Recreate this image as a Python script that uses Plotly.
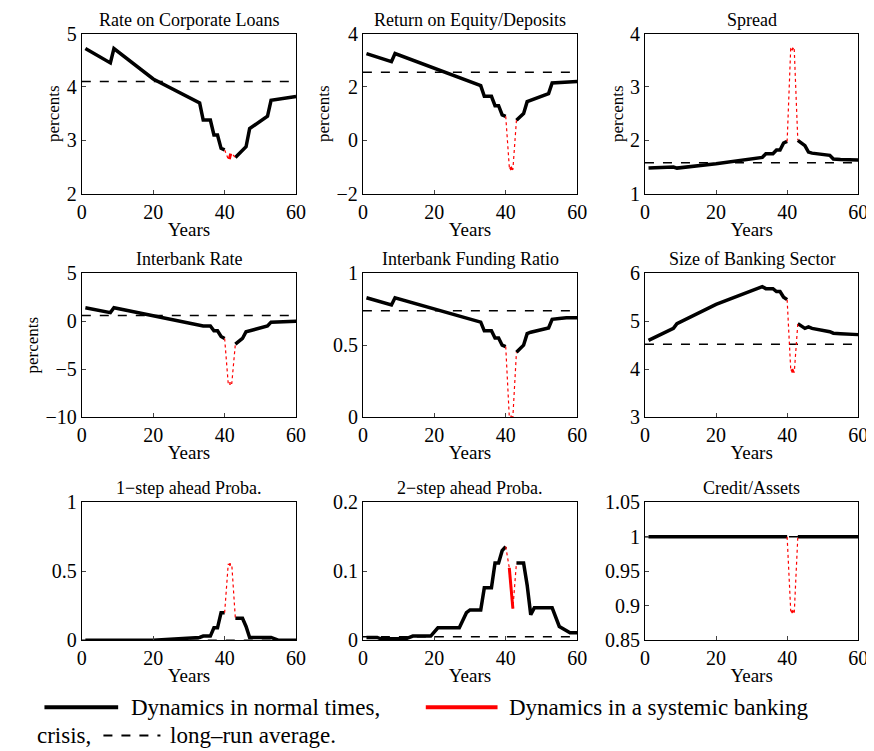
import plotly.graph_objects as go

FONT = "Liberation Serif"

titles = ["Rate on Corporate Loans", "Return on Equity/Deposits", "Spread",
          "Interbank Rate", "Interbank Funding Ratio", "Size of Banking Sector",
          "1\u2212step ahead Proba.", "2\u2212step ahead Proba.", "Credit/Assets"]

# normal-times breakpoints before the crisis (years 1..40)
pre_x = [1, 8, 9, 20, 33, 34, 36, 37, 38, 39, 40]
pre_y = [
    [4.72, 4.45, 4.72, 4.15, 3.70, 3.38, 3.38, 3.10, 3.10, 2.85, 2.82],
    [3.25, 2.95, 3.25, 2.70, 2.05, 1.65, 1.65, 1.30, 1.30, 0.95, 0.90],
    [1.48, 1.50, 1.48, 1.56, 1.68, 1.75, 1.75, 1.82, 1.82, 1.95, 1.98],
    [1.4, 0.9, 1.4, 0.6, -0.4, -0.5, -0.5, -1.0, -1.0, -1.6, -1.8],
    [0.83, 0.78, 0.83, 0.75, 0.66, 0.60, 0.60, 0.55, 0.55, 0.50, 0.49],
    [4.60, 4.85, 4.95, 5.35, 5.72, 5.68, 5.68, 5.62, 5.62, 5.50, 5.45],
    [0.0, 0.0, 0.0, 0.0, 0.02, 0.03, 0.03, 0.09, 0.09, 0.20, 0.20],
    [0.004, 0.002, 0.002, 0.006, 0.044, 0.076, 0.076, 0.112, 0.112, 0.130, 0.136],
    [1.0] * 11,
]
# the 2-step probability has more steps of its own
step2_pre_x = [1, 4, 5, 12, 14, 19, 21, 27, 29, 30, 33, 34, 36, 37, 38, 39, 40]
step2_pre_y = [0.004, 0.004, 0.002, 0.002, 0.006, 0.006, 0.018, 0.018, 0.040, 0.044,
               0.044, 0.076, 0.076, 0.112, 0.112, 0.130, 0.136]
step2_post_x = [43, 45, 46, 47, 48, 53, 55, 57, 58, 60]
step2_post_y = [0.112, 0.112, 0.080, 0.037, 0.047, 0.047, 0.020, 0.013, 0.011, 0.011]

# crisis years
crisis_x = [41, 42]
crisis_y = [[2.65, 2.75], [-1.0, -1.1], [3.72, 3.70], [-6.5, -6.5], [0.0, 0.0],
            [4.00, 3.93], [0.55, 0.55], [0.105, 0.046], [0.893, 0.890]]
# normal-times breakpoints after the crisis (years 43..60)
post_x = [43, 45, 46, 47, 52, 53, 55, 57, 60]
post_y = [
    [2.68, 2.80, 2.88, 3.22, 3.45, 3.75, 3.77, 3.79, 3.82],
    [0.75, 1.00, 1.45, 1.50, 1.75, 2.15, 2.17, 2.18, 2.20],
    [2.00, 1.90, 1.78, 1.76, 1.72, 1.65, 1.64, 1.64, 1.63],
    [-2.4, -1.8, -1.1, -1.0, -0.5, -0.1, -0.05, 0.0, 0.0],
    [0.45, 0.50, 0.58, 0.59, 0.62, 0.68, 0.685, 0.69, 0.69],
    [4.95, 4.85, 4.88, 4.85, 4.78, 4.75, 4.74, 4.73, 4.72],
    [0.16, 0.16, 0.10, 0.02, 0.02, 0.02, 0.0, 0.0, 0.0],
    [0.112, 0.112, 0.080, 0.037, 0.047, 0.047, 0.020, 0.013, 0.011],
    [1.0] * 9,
]
averages = [4.1, 2.55, 1.58, 0.6, 0.74, 4.52, 0.0, 0.005, 1.0]
y_ranges = [[2, 5], [-2, 4], [1, 4], [-10, 5], [0, 1], [3, 6], [0, 1], [0, 0.2], [0.85, 1.05]]
y_ticks = [[2, 3, 4, 5], [-2, 0, 2, 4], [1, 2, 3, 4], [-10, -5, 0, 5], [0, 0.5, 1],
           [3, 4, 5, 6], [0, 0.5, 1], [0, 0.1, 0.2], [0.85, 0.9, 0.95, 1, 1.05]]
show_percents = [True, True, True, True, False, False, False, False, False]

W, H = 874, 751
col_px = [(70, 288), (356, 574), (643, 860)]
row_px = [(15, 180), (262, 410), (498, 640)]

fig = go.Figure()
for i in range(9):
    r, c = divmod(i, 3)
    ax = "" if i == 0 else str(i + 1)
    xa, ya = "x" + ax, "y" + ax
    x0, x1 = col_px[c]
    y0, y1 = row_px[r]
    px_, py_ = (step2_pre_x, step2_pre_y) if i == 7 else (pre_x, pre_y[i])
    qx_, qy_ = (step2_post_x, step2_post_y) if i == 7 else (post_x, post_y[i])
    fig.add_trace(go.Scatter(x=[0, 60], y=[averages[i]] * 2, mode="lines",
                             line=dict(color="black", width=1.5, dash="dash"),
                             xaxis=xa, yaxis=ya, showlegend=False))
    fig.add_trace(go.Scatter(x=px_, y=py_, mode="lines",
                             line=dict(color="black", width=3.5),
                             xaxis=xa, yaxis=ya, showlegend=False))
    fig.add_trace(go.Scatter(x=qx_, y=qy_, mode="lines",
                             line=dict(color="black", width=3.5),
                             xaxis=xa, yaxis=ya, showlegend=False))
    fig.add_trace(go.Scatter(x=[px_[-1]] + crisis_x + [qx_[0]],
                             y=[py_[-1]] + crisis_y[i] + [qy_[0]],
                             mode="lines", line=dict(color="red", width=1.2, dash="dot"),
                             xaxis=xa, yaxis=ya, showlegend=False))
    cx = crisis_x if i == 7 else [41.3, 41.7]
    fig.add_trace(go.Scatter(x=cx, y=crisis_y[i], mode="lines",
                             line=dict(color="red", width=3),
                             xaxis=xa, yaxis=ya, showlegend=False))
    axis_common = dict(showline=True, mirror=True, linecolor="black", linewidth=1,
                       ticks="inside", ticklen=4, showgrid=False, zeroline=False,
                       tickfont=dict(family=FONT, size=20, color="black"))
    fig.layout["xaxis" + ax] = dict(domain=[x0 / W, x1 / W], anchor=ya, range=[0, 60],
                                    tickvals=[0, 20, 40, 60],
                                    title=dict(text="Years", standoff=0,
                                               font=dict(family=FONT, size=19, color="black")),
                                    **axis_common)
    fig.layout["yaxis" + ax] = dict(domain=[1 - y1 / H, 1 - y0 / H], anchor=xa,
                                    range=y_ranges[i], tickvals=y_ticks[i],
                                    title=dict(text="percents" if show_percents[i] else "",
                                               standoff=2,
                                               font=dict(family=FONT, size=17, color="black")),
                                    **axis_common)
    fig.add_annotation(text=titles[i], x=(x0 + x1) / 2 / W, y=1 - (y0 - 2) / H,
                       xref="paper", yref="paper", xanchor="center", yanchor="bottom",
                       showarrow=False, font=dict(family=FONT, size=18, color="black"))

# legend caption drawn below the grid
fig.add_shape(type="line", xref="paper", yref="paper", x0=32 / W, x1=107 / W,
              y0=1 - 709 / H, y1=1 - 709 / H, line=dict(color="black", width=4))
fig.add_shape(type="line", xref="paper", yref="paper", x0=420 / W, x1=493 / W,
              y0=1 - 709 / H, y1=1 - 709 / H, line=dict(color="red", width=4))
fig.add_shape(type="line", xref="paper", yref="paper", x0=92 / W, x1=150 / W,
              y0=1 - 738 / H, y1=1 - 738 / H, line=dict(color="black", width=2, dash="dash"))
cap_font = dict(family=FONT, size=23, color="black")
fig.add_annotation(text="Dynamics in normal times,", x=118 / W, y=1 - 709 / H,
                   xref="paper", yref="paper", xanchor="left", yanchor="middle",
                   showarrow=False, font=cap_font)
fig.add_annotation(text="Dynamics in a systemic banking", x=503 / W, y=1 - 709 / H,
                   xref="paper", yref="paper", xanchor="left", yanchor="middle",
                   showarrow=False, font=cap_font)
fig.add_annotation(text="crisis,", x=22 / W, y=1 - 738 / H,
                   xref="paper", yref="paper", xanchor="left", yanchor="middle",
                   showarrow=False, font=cap_font)
fig.add_annotation(text="long\u2013run average.", x=158 / W, y=1 - 738 / H,
                   xref="paper", yref="paper", xanchor="left", yanchor="middle",
                   showarrow=False, font=cap_font)

fig.update_layout(width=W, height=H, margin=dict(l=0, r=0, t=0, b=0),
                  plot_bgcolor="white", paper_bgcolor="white")
fig.write_html("out.html")
